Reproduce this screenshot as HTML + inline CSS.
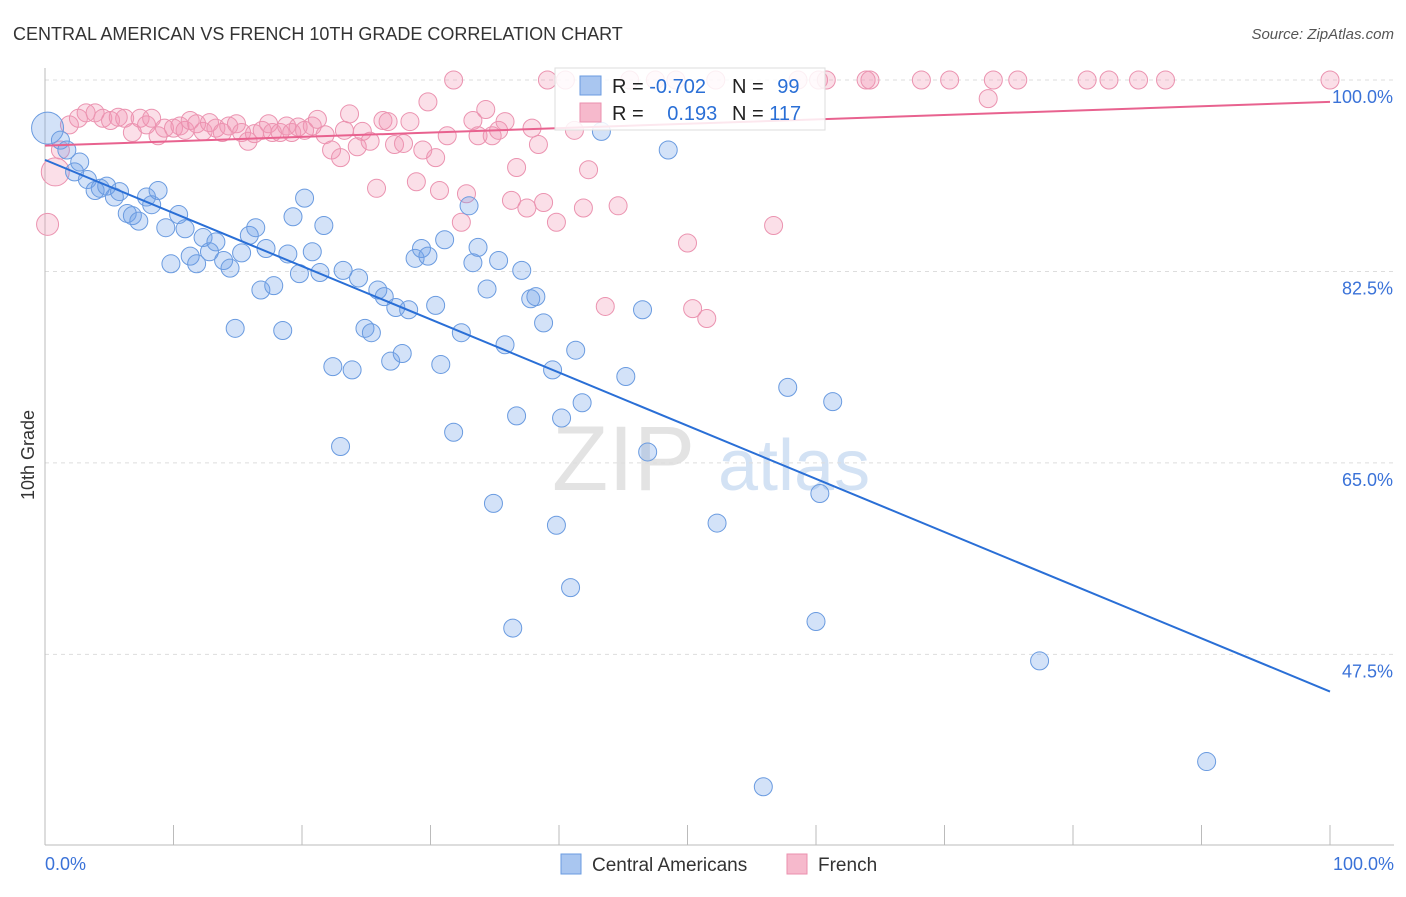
<!DOCTYPE html>
<html><head><meta charset="utf-8"><style>
body{margin:0;background:#fff;font-family:"Liberation Sans",sans-serif;}
svg text{font-family:"Liberation Sans",sans-serif;}
</style></head><body>
<svg id="chart" width="1406" height="892" viewBox="0 0 1406 892">
<text x="13" y="40" font-size="18" fill="#333">CENTRAL AMERICAN VS FRENCH 10TH GRADE CORRELATION CHART</text>
<text x="1394" y="39" font-size="15" fill="#555" font-style="italic" text-anchor="end">Source: ZipAtlas.com</text>
<g><text x="552" y="490" font-size="92" fill="#ddd" font-family="Liberation Serif" opacity="0.8">ZIP</text><text x="718" y="490" font-size="72" fill="#c9dbf2" opacity="0.8">atlas</text></g>
<g id="grid"></g><g id="axes"></g><g id="pink"></g><g id="blue"></g><g id="trends"></g>
<text transform="translate(34,455) rotate(-90)" font-size="18" fill="#333" text-anchor="middle">10th Grade</text>
<g>
<rect x="555" y="68" width="270" height="62" fill="#fff" fill-opacity="0.85" stroke="#ddd"/>
<rect x="580" y="76" width="21" height="19" fill="#a9c6f0" stroke="#6a9be0"/>
<rect x="580" y="103" width="21" height="19" fill="#f6b9cc" stroke="#eb8fae"/>
<text x="612" y="93" font-size="20" fill="#222">R = <tspan fill="#2a6fd6">-0.702</tspan></text>
<text x="732" y="93" font-size="20" fill="#222">N = <tspan fill="#2a6fd6" dx="8">99</tspan></text>
<text x="612" y="120" font-size="20" fill="#222">R = <tspan fill="#2a6fd6" dx="18">0.193</tspan></text>
<text x="732" y="120" font-size="20" fill="#222">N = <tspan fill="#2a6fd6">117</tspan></text>
</g>
<g>
<rect x="561" y="854" width="20" height="20" fill="#a9c6f0" stroke="#6a9be0"/>
<text x="592" y="871" font-size="19" fill="#333">Central Americans</text>
<rect x="787" y="854" width="20" height="20" fill="#f6b9cc" stroke="#eb8fae"/>
<text x="818" y="871" font-size="19" fill="#333">French</text>
</g>
</svg>
<script>
const yTicks=[100,82.5,65,47.5];
const yTickLabels=["100.0%","82.5%","65.0%","47.5%"];
const xTickLabels=["0.0%","100.0%"];
const blueX=[0.2,1.2,1.7,2.7,2.3,3.3,3.9,4.3,4.8,5.4,5.8,6.4,6.8,7.3,7.9,8.3,8.8,9.4,9.8,10.4,10.9,11.3,11.8,12.3,12.8,13.3,13.9,14.4,14.8,15.3,15.9,16.4,16.8,17.2,17.8,18.5,18.9,19.3,19.8,20.2,20.8,21.4,21.7,22.4,23.0,23.2,23.9,24.4,24.9,25.4,25.9,26.4,26.9,27.3,27.8,28.3,28.8,29.3,29.8,30.4,30.8,31.1,31.8,32.4,33.0,33.3,33.7,34.4,34.9,35.3,35.8,36.4,36.7,37.1,37.8,38.2,38.8,39.5,39.8,40.2,40.9,41.3,41.8,43.3,45.2,46.5,46.9,48.5,52.3,57.8,60.0,60.3,61.3,77.4,90.4,55.9];
const blueY=[95.6,94.5,93.6,92.5,91.6,90.9,89.9,90.1,90.3,89.3,89.8,87.8,87.6,87.1,89.3,88.6,89.9,86.5,83.2,87.7,86.4,83.9,83.2,85.6,84.3,85.2,83.5,82.8,77.3,84.2,85.8,86.5,80.8,84.6,81.2,77.1,84.1,87.5,82.3,89.2,84.3,82.4,86.7,73.8,66.5,82.6,73.5,81.9,77.3,76.9,80.8,80.2,74.3,79.2,75.0,79.0,83.7,84.6,83.9,79.4,74.0,85.4,67.8,76.9,88.5,83.3,84.7,80.9,61.3,83.5,75.8,49.9,69.3,82.6,80.0,80.2,77.8,73.5,59.3,69.1,53.6,75.3,70.5,95.3,72.9,79.0,66.0,93.6,59.5,71.9,50.5,62.2,70.6,46.9,37.7,35.4];
const pinkX=[0.2,0.8,1.2,1.9,2.6,3.2,3.9,4.5,5.1,5.7,6.2,6.8,7.4,7.9,8.3,8.8,9.3,10.0,10.5,10.9,11.3,11.8,12.3,12.8,13.3,13.8,14.3,14.9,15.3,15.8,16.3,16.9,17.4,17.7,18.3,18.8,19.2,19.7,20.2,20.8,21.2,21.8,22.3,23.0,23.3,23.7,24.3,24.7,25.3,25.8,26.3,26.7,27.2,27.9,28.4,28.9,29.4,29.8,30.4,30.7,31.3,31.8,32.4,32.8,33.3,33.7,34.3,34.8,35.3,35.8,36.3,36.7,37.5,37.9,38.4,38.8,39.1,39.8,41.2,41.9,42.3,43.6,44.6,40.5,45.5,47.5,49.1,50.0,50.4,51.5,52.2,56.7,58.6,60.2,60.8,63.9,64.2,68.2,70.4,73.8,75.7,81.1,82.8,85.1,87.2,73.4,100];
const pinkY=[86.8,91.6,93.6,95.9,96.5,97.0,97.0,96.5,96.3,96.6,96.5,95.2,96.5,95.9,96.5,94.9,95.6,95.6,95.8,95.4,96.3,96.0,95.3,96.1,95.6,95.2,95.8,96.0,95.2,94.4,95.1,95.4,96.0,95.2,95.2,95.8,95.2,95.7,95.4,95.8,96.4,95.0,93.6,92.9,95.4,96.9,93.9,95.3,94.4,90.1,96.3,96.2,94.1,94.2,96.2,90.7,93.6,98.0,92.9,89.9,94.9,100,87.0,89.6,96.3,94.9,97.3,94.9,95.4,96.2,89.0,92.0,88.3,95.6,94.1,88.8,100,87.0,95.4,88.3,91.8,79.3,88.5,100,100,100,100,85.1,79.1,78.2,100,86.7,100,100,100,100,100,100,100,100,100,100,100,100,100,98.3,100];
const blueTrend=[92.7,44.1];
const pinkTrend=[94.0,98.0];
const NS='http://www.w3.org/2000/svg';
const X=v=>45+v*12.85;
const Y=v=>80+(100-v)*10.94;
function mk(tag,attrs,parent){const e=document.createElementNS(NS,tag);for(const k in attrs)e.setAttribute(k,attrs[k]);parent.appendChild(e);return e;}
const grid=document.getElementById('grid'),axes=document.getElementById('axes');
yTicks.forEach((t,i)=>{
 const l=mk('line',{x1:45,x2:1394,y1:Y(t),y2:Y(t),stroke:'#ddd','stroke-dasharray':'4,4'},grid);
 
 
 const tx=mk('text',{x:1393,y:Y(t)+23,'font-size':18,fill:'#3a72d8','text-anchor':'end'},axes);
 tx.textContent=yTickLabels[i];
 
 
});
const ya=mk('line',{x1:45,x2:45,y1:68,y2:845,stroke:'#bbb'},axes);


const xa=mk('line',{x1:45,x2:1394,y1:845,y2:845,stroke:'#bbb'},axes);


for(let i=0;i<=10;i++){const t=mk('line',{x1:X(i*10),x2:X(i*10),y1:825,y2:845,stroke:'#bbb'},axes);
 
 }
[[0,'start',45],[100,'end',1394]].forEach((d,i)=>{const t=mk('text',{x:d[2],y:870,'font-size':18,fill:'#3a72d8','text-anchor':d[1]},axes);t.textContent=xTickLabels[i];
 
 });
function pts(gid,xs,ys,fill,stroke,big,name){const g=document.getElementById(gid);
 xs.forEach((x,i)=>{const r=big[i]||9;const c=mk('circle',{cx:X(x),cy:Y(ys[i]),r:r,fill:fill,stroke:stroke,'stroke-width':1},g);
 
 });}
pts('pink',pinkX,pinkY,'rgba(242,150,180,0.3)','#eb93b0',{0:11,1:14},'french-point');
pts('blue',blueX,blueY,'rgba(110,160,232,0.3)','#6a9be0',{0:16},'central-american-point');
const tg=document.getElementById('trends');
const bl=mk('line',{x1:X(0),y1:Y(blueTrend[0]),x2:X(100),y2:Y(blueTrend[1]),stroke:'#2a6fd6','stroke-width':2},tg);


const pl=mk('line',{x1:X(0),y1:Y(pinkTrend[0]),x2:X(100),y2:Y(pinkTrend[1]),stroke:'#e8628f','stroke-width':2},tg);


</script>
</body></html>
